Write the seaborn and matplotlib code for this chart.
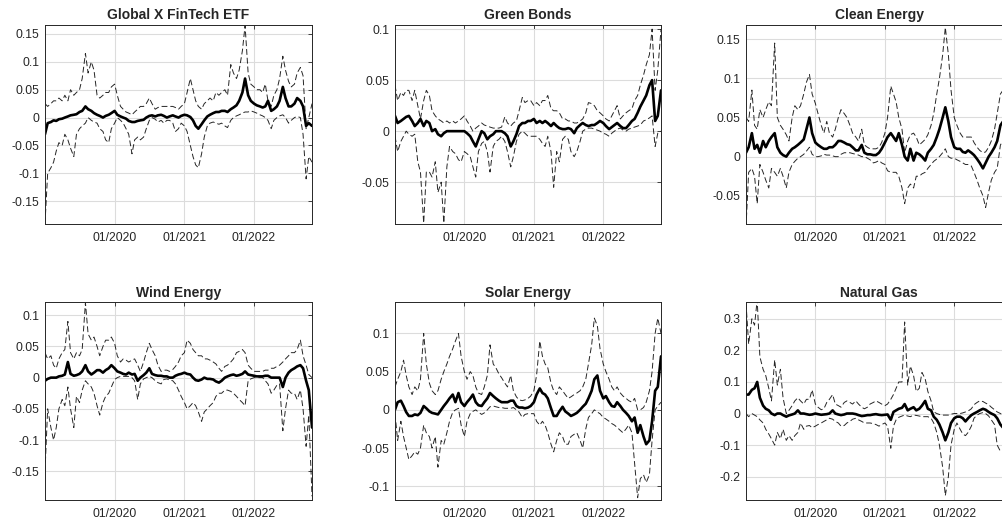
import numpy as np
import pandas as pd
import matplotlib
matplotlib.use("Agg")
import matplotlib.pyplot as plt
import matplotlib.dates as mdates
from matplotlib.ticker import FixedLocator, FuncFormatter
import seaborn as sns

# semi-monthly observation dates, 01/2019 - 11/2022
dates = pd.date_range("2019-01-01", periods=93, freq="SMS")

# Global X FinTech ETF
fin_up = [0.025, 0.02, 0.025, 0.03, 0.03, 0.035, 0.03, 0.04, 0.03, 0.05, 0.04, 0.045, 0.05, 0.07, 0.115, 0.08,
          0.1, 0.085, 0.04, 0.035, 0.04, 0.045, 0.045, 0.055, 0.06, 0.04, 0.02, 0.015, 0.01, 0.008, 0.005, 0.01,
          0.015, 0.02, 0.02, 0.025, 0.035, 0.025, 0.015, 0.018, 0.02, 0.02, 0.02, 0.02, 0.02, 0.018, 0.015, 0.02,
          0.025, 0.045, 0.07, 0.05, 0.03, 0.02, 0.015, 0.025, 0.03, 0.035, 0.03, 0.045, 0.04, 0.045, 0.05, 0.04,
          0.095, 0.08, 0.07, 0.085, 0.12, 0.165, 0.08, 0.06, 0.055, 0.05, 0.05, 0.045, 0.06, 0.03, 0.02, 0.04,
          0.05, 0.07, 0.11, 0.085, 0.065, 0.055, 0.06, 0.08, 0.09, 0.075, -0.02, 0.0, 0.025]
fin_med = [-0.03, -0.01, -0.008, -0.005, -0.006, -0.003, -0.002, 0.0, 0.002, 0.004, 0.005, 0.006, 0.01, 0.012,
           0.02, 0.015, 0.012, 0.008, 0.005, 0.003, 0.0, 0.003, 0.005, 0.008, 0.012, 0.005, 0.002, 0.0, -0.002,
           -0.006, -0.008, -0.008, -0.006, -0.005, -0.004, 0.0, 0.003, 0.004, 0.002, 0.004, 0.005, 0.003, 0.0,
           0.002, 0.004, 0.002, 0.0, 0.003, 0.005, 0.004, 0.001, -0.005, -0.015, -0.02, -0.012, -0.005, 0.002,
           0.005, 0.008, 0.01, 0.01, 0.012, 0.012, 0.01, 0.015, 0.018, 0.022, 0.03, 0.045, 0.07, 0.04, 0.03,
           0.025, 0.022, 0.02, 0.018, 0.02, 0.03, 0.012, 0.015, 0.02, 0.03, 0.055, 0.035, 0.02, 0.02, 0.025,
           0.035, 0.03, 0.02, -0.015, -0.01, -0.015]
fin_lo = [-0.19, -0.1, -0.09, -0.08, -0.06, -0.045, -0.05, -0.03, -0.04, -0.055, -0.07, -0.03, -0.02, -0.015,
          -0.01, 0.0, -0.005, -0.008, -0.01, -0.02, -0.025, -0.04, -0.045, -0.02, -0.01, 0.0, -0.005, -0.01,
          -0.02, -0.03, -0.065, -0.04, -0.035, -0.04, -0.035, -0.02, -0.005, 0.0, -0.003, -0.008, -0.005, -0.01,
          -0.005, -0.005, -0.01, -0.025, -0.02, -0.01, -0.015, -0.025, -0.05, -0.07, -0.085, -0.09, -0.065,
          -0.035, -0.015, -0.01, -0.008, -0.01, -0.012, -0.01, -0.015, -0.018, -0.005, 0.0, 0.003, 0.005, 0.008,
          0.01, 0.01, 0.012, 0.01, 0.008, 0.005, 0.003, 0.0, -0.005, -0.02, -0.005, 0.0, 0.003, 0.005, 0.0,
          -0.01, -0.005, 0.0, 0.002, 0.0, -0.03, -0.11, -0.07, -0.08]

# Green Bonds
gb_up = [0.045, 0.03, 0.038, 0.035, 0.04, 0.04, 0.03, 0.04, 0.025, 0.012, 0.03, 0.04, 0.035, 0.02, 0.015, 0.012,
         0.01, 0.008, 0.01, 0.008, 0.01, 0.008, 0.01, 0.012, 0.015, 0.01, 0.005, 0.0, 0.003, 0.005, 0.008, 0.006,
         0.005, 0.004, 0.003, 0.003, 0.003, 0.004, 0.014, 0.008, 0.005, 0.008, 0.01, 0.02, 0.033, 0.028, 0.03,
         0.03, 0.025, 0.028, 0.025, 0.03, 0.03, 0.035, 0.022, 0.02, 0.02, 0.018, 0.012, 0.012, 0.01, 0.01,
         0.008, 0.008, 0.01, 0.012, 0.018, 0.028, 0.027, 0.025, 0.02, 0.018, 0.015, 0.012, 0.01, 0.015, 0.02,
         0.025, 0.012, 0.015, 0.018, 0.02, 0.022, 0.03, 0.035, 0.045, 0.055, 0.065, 0.075, 0.1, 0.04, 0.06, 0.1]
gb_med = [0.015, 0.008, 0.01, 0.012, 0.014, 0.015, 0.01, 0.005, 0.008, 0.012, 0.005, 0.01, 0.008, 0.0, 0.002,
          -0.003, -0.005, -0.002, 0.0, 0.0, 0.0, 0.0, 0.0, 0.0, 0.0, -0.002, -0.005, -0.01, -0.015, -0.008, 0.0,
          -0.002, -0.008, -0.005, -0.003, 0.0, 0.0, 0.0, -0.002, -0.005, -0.015, -0.01, -0.003, 0.005, 0.008,
          0.008, 0.01, 0.01, 0.012, 0.008, 0.01, 0.008, 0.01, 0.008, 0.005, 0.008, 0.005, 0.003, 0.002, 0.002,
          0.003, 0.002, -0.002, 0.003, 0.006, 0.008, 0.006, 0.005, 0.006, 0.006, 0.008, 0.01, 0.008, 0.005,
          0.002, 0.004, 0.006, 0.008, 0.005, 0.003, 0.003, 0.006, 0.01, 0.012, 0.018, 0.024, 0.03, 0.035, 0.045,
          0.05, 0.01, 0.015, 0.04]
gb_lo = [-0.005, -0.02, -0.01, -0.005, 0.0, -0.003, -0.005, -0.003, -0.03, -0.04, -0.09, -0.04, -0.04, -0.045,
         -0.03, -0.06, -0.05, -0.09, -0.035, -0.015, -0.02, -0.022, -0.028, -0.03, -0.02, -0.022, -0.025, -0.035,
         -0.045, -0.02, -0.012, -0.01, -0.02, -0.04, -0.015, -0.01, -0.008, -0.005, -0.01, -0.02, -0.035,
         -0.025, -0.01, -0.003, 0.0, -0.002, -0.005, -0.005, -0.005, -0.005, -0.008, -0.012, -0.015, -0.005,
         -0.02, -0.055, -0.02, -0.03, -0.008, -0.005, -0.008, -0.02, -0.025, -0.02, -0.01, 0.0, 0.002, 0.003,
         0.003, 0.002, 0.001, 0.0, -0.002, -0.003, -0.005, -0.002, 0.0, 0.002, 0.003, 0.001, 0.0, 0.002, 0.003,
         0.004, 0.005, 0.006, 0.01, 0.011, 0.013, 0.015, -0.015, -0.002, 0.0]

# Clean Energy
ce_up = [0.05, 0.045, 0.085, 0.04, 0.035, 0.06, 0.05, 0.06, 0.07, 0.065, 0.145, 0.05, 0.04, 0.035, 0.028, 0.02,
         0.05, 0.065, 0.06, 0.065, 0.08, 0.095, 0.105, 0.08, 0.068, 0.055, 0.04, 0.03, 0.045, 0.03, 0.025, 0.035,
         0.05, 0.06, 0.055, 0.05, 0.04, 0.03, 0.025, 0.02, 0.035, 0.015, 0.012, 0.01, 0.01, 0.01, 0.012, 0.018,
         0.03, 0.05, 0.09, 0.08, 0.07, 0.05, 0.035, 0.005, 0.02, 0.028, 0.03, 0.025, 0.015, 0.018, 0.022, 0.028,
         0.04, 0.055, 0.08, 0.1, 0.13, 0.165, 0.13, 0.085, 0.05, 0.04, 0.03, 0.025, 0.025, 0.025, 0.025, 0.018,
         0.012, 0.008, 0.005, 0.006, 0.012, 0.02, 0.035, 0.055, 0.08, 0.085, 0.08, 0.075, 0.07]
ce_med = [0.005, 0.012, 0.03, 0.01, 0.015, 0.005, 0.02, 0.012, 0.02, 0.025, 0.03, 0.012, 0.005, 0.002, 0.0, 0.005,
          0.01, 0.012, 0.015, 0.018, 0.022, 0.035, 0.05, 0.03, 0.018, 0.015, 0.012, 0.01, 0.01, 0.012, 0.012,
          0.015, 0.02, 0.02, 0.018, 0.016, 0.015, 0.012, 0.008, 0.008, 0.015, 0.005, 0.003, 0.003, 0.002, 0.002,
          0.005, 0.01, 0.018, 0.025, 0.03, 0.025, 0.02, 0.03, 0.015, 0.0, -0.005, 0.01, -0.005, 0.005, 0.003,
          0.0, -0.005, 0.005, 0.01, 0.015, 0.025, 0.035, 0.05, 0.063, 0.045, 0.025, 0.012, 0.01, 0.01, 0.006,
          0.005, 0.008, 0.005, 0.002, -0.003, -0.008, -0.015, -0.008, 0.0, 0.005, 0.012, 0.02, 0.04, 0.045,
          0.04, 0.035, 0.03]
ce_lo = [-0.09, -0.02, -0.015, -0.025, -0.06, -0.01, -0.02, -0.03, -0.04, -0.015, -0.02, -0.025, -0.015, -0.025,
         -0.04, -0.02, -0.01, -0.006, -0.002, 0.0, 0.003, 0.007, 0.012, 0.003, 0.0, 0.0, 0.001, 0.003, 0.002,
         0.002, 0.001, 0.0, 0.0, 0.003, 0.005, 0.005, 0.005, 0.004, 0.003, 0.002, 0.0, 0.0, -0.002, -0.004,
         -0.008, -0.007, -0.005, -0.008, -0.01, -0.018, -0.02, -0.02, -0.02, -0.025, -0.04, -0.06, -0.04, -0.035,
         -0.04, -0.025, -0.025, -0.022, -0.02, -0.015, -0.01, -0.006, -0.003, 0.0, 0.005, 0.01, 0.0, -0.002,
         -0.002, -0.004, -0.006, -0.008, -0.01, -0.01, -0.012, -0.02, -0.03, -0.04, -0.05, -0.065, -0.045, -0.03,
         -0.02, -0.015, 0.015, 0.02, 0.02, 0.02, 0.02]

# Wind Energy
we_up = [0.04, 0.03, 0.035, 0.02, 0.015, 0.03, 0.04, 0.045, 0.09, 0.04, 0.03, 0.04, 0.035, 0.045, 0.12, 0.07,
         0.06, 0.065, 0.05, 0.035, 0.05, 0.06, 0.06, 0.065, 0.055, 0.035, 0.025, 0.03, 0.028, 0.025, 0.028, 0.03,
         0.02, 0.01, 0.025, 0.04, 0.055, 0.045, 0.035, 0.02, 0.01, 0.012, 0.012, 0.01, 0.013, 0.018, 0.025, 0.035,
         0.04, 0.06, 0.055, 0.045, 0.04, 0.035, 0.035, 0.03, 0.03, 0.028, 0.025, 0.022, 0.015, 0.01, 0.018, 0.02,
         0.025, 0.03, 0.04, 0.042, 0.045, 0.04, 0.02, 0.015, 0.01, 0.01, 0.01, 0.01, 0.012, 0.012, 0.015, 0.015,
         0.018, 0.02, 0.025, 0.03, 0.035, 0.04, 0.04, 0.045, 0.06, 0.035, 0.02, 0.005, 0.0]
we_med = [-0.005, -0.002, 0.0, 0.0, 0.0, 0.002, 0.003, 0.005, 0.025, 0.006, 0.003, 0.004, 0.006, 0.01, 0.02, 0.01,
          0.005, 0.008, 0.012, 0.012, 0.008, 0.012, 0.015, 0.02, 0.015, 0.01, 0.008, 0.006, 0.005, 0.008, 0.005,
          0.006, -0.005, 0.0, 0.004, 0.008, 0.015, 0.006, 0.004, 0.003, 0.003, 0.002, 0.002, 0.0, 0.0, 0.003,
          0.005, 0.006, 0.008, 0.006, 0.005, 0.0, -0.004, -0.005, -0.003, 0.0, -0.002, -0.002, -0.003, -0.006,
          -0.008, -0.005, 0.0, 0.002, 0.004, 0.005, 0.003, 0.004, 0.006, 0.01, 0.005, 0.004, 0.003, 0.002, 0.002,
          0.002, 0.003, 0.003, 0.0, 0.0, 0.0, 0.0, -0.015, 0.0, 0.008, 0.012, 0.015, 0.018, 0.02, 0.015, -0.005,
          -0.02, -0.08]
we_lo = [-0.15, -0.05, -0.08, -0.1, -0.08, -0.05, -0.035, -0.045, -0.015, -0.05, -0.08, -0.03, -0.04, -0.02,
         -0.005, -0.01, -0.015, -0.025, -0.045, -0.06, -0.04, -0.03, -0.025, -0.015, -0.003, 0.0, 0.002, 0.002,
         0.002, 0.002, 0.0, -0.005, -0.035, -0.01, -0.002, 0.0, 0.002, 0.0, -0.005, -0.008, -0.01, -0.003,
         -0.002, -0.004, -0.005, -0.01, -0.02, -0.03, -0.04, -0.05, -0.045, -0.04, -0.045, -0.055, -0.07, -0.055,
         -0.05, -0.045, -0.04, -0.03, -0.025, -0.025, -0.02, -0.02, -0.022, -0.025, -0.03, -0.035, -0.04, -0.045,
         -0.005, -0.002, 0.0, 0.0, 0.0, 0.0, -0.005, -0.01, -0.025, -0.02, -0.012, -0.01, -0.085, -0.05, -0.02,
         -0.025, -0.025, -0.035, -0.02, -0.05, -0.11, -0.06, -0.19]

# Solar Energy
se_up = [0.03, 0.04, 0.05, 0.065, 0.045, 0.03, 0.02, 0.03, 0.025, 0.04, 0.1, 0.06, 0.035, 0.025, 0.02, 0.025,
         0.04, 0.05, 0.06, 0.07, 0.08, 0.09, 0.1, 0.07, 0.05, 0.04, 0.05, 0.045, 0.03, 0.022, 0.02, 0.03, 0.045,
         0.085, 0.06, 0.055, 0.047, 0.042, 0.035, 0.03, 0.045, 0.025, 0.017, 0.013, 0.012, 0.013, 0.015, 0.018,
         0.025, 0.045, 0.09, 0.07, 0.06, 0.055, 0.035, 0.025, 0.02, 0.03, 0.025, 0.02, 0.015, 0.017, 0.02, 0.022,
         0.025, 0.03, 0.04, 0.06, 0.085, 0.12, 0.11, 0.08, 0.06, 0.05, 0.04, 0.03, 0.025, 0.03, 0.022, 0.018,
         0.015, 0.012, 0.01, 0.015, 0.0, 0.0, 0.003, 0.01, 0.025, 0.05, 0.1, 0.12, 0.1]
se_med = [0.0, 0.01, 0.012, 0.005, -0.003, -0.008, -0.008, -0.006, -0.007, -0.004, 0.005, 0.002, -0.002, -0.004,
          -0.005, -0.006, 0.0, 0.005, 0.01, 0.015, 0.02, 0.01, 0.022, 0.01, 0.005, 0.01, 0.015, 0.02, 0.01,
          0.006, 0.005, 0.01, 0.015, 0.022, 0.018, 0.015, 0.012, 0.01, 0.01, 0.01, 0.012, 0.012, 0.005, 0.003,
          0.003, 0.002, 0.003, 0.005, 0.01, 0.02, 0.028, 0.022, 0.02, 0.015, 0.002, -0.008, -0.008, -0.002,
          0.004, -0.002, -0.005, -0.008, -0.006, -0.004, 0.0, 0.004, 0.008, 0.015, 0.025, 0.04, 0.045, 0.025,
          0.015, 0.018, 0.01, 0.005, 0.004, 0.01, 0.005, 0.0, -0.004, -0.008, -0.015, -0.01, -0.03, -0.02,
          -0.035, -0.045, -0.04, -0.015, 0.025, 0.03, 0.07]
se_lo = [-0.005, -0.04, -0.015, -0.035, -0.05, -0.065, -0.06, -0.055, -0.058, -0.05, -0.02, -0.03, -0.035, -0.05,
         -0.035, -0.075, -0.04, -0.045, -0.03, -0.015, -0.003, 0.0, 0.002, -0.02, -0.035, -0.015, -0.005, -0.002,
         0.0, -0.003, -0.006, -0.004, 0.0, 0.004, 0.005, 0.004, 0.003, 0.003, 0.002, 0.002, 0.002, 0.003, 0.0,
         -0.003, -0.01, -0.006, -0.005, -0.005, -0.005, -0.015, -0.02, -0.015, -0.02, -0.03, -0.045, -0.055,
         -0.04, -0.03, -0.035, -0.045, -0.045, -0.035, -0.032, -0.03, -0.04, -0.05, -0.025, -0.01, -0.005, 0.0,
         -0.003, -0.005, -0.01, -0.012, -0.015, -0.018, -0.02, -0.023, -0.027, -0.03, -0.025, -0.02, -0.03,
         -0.07, -0.115, -0.09, -0.085, -0.095, -0.085, -0.04, 0.0, 0.005, 0.01]

# Natural Gas
ng_up = [0.35, 0.22, 0.3, 0.28, 0.36, 0.18, 0.14, 0.12, 0.08, 0.04, 0.17, 0.09, 0.14, 0.05, 0.0, 0.01, 0.025,
         0.04, 0.05, 0.04, 0.03, 0.045, 0.045, 0.075, 0.03, 0.02, 0.012, 0.015, 0.035, 0.045, 0.06, 0.03, 0.025,
         0.02, 0.035, 0.04, 0.035, 0.03, 0.04, 0.03, 0.02, 0.015, 0.02, 0.03, 0.035, 0.04, 0.035, 0.03, 0.025,
         0.03, 0.045, 0.06, 0.08, 0.1, 0.1, 0.29, 0.09, 0.15, 0.12, 0.07, 0.08, 0.13, 0.11, 0.07, 0.04, 0.005,
         0.0, -0.003, -0.005, -0.005, -0.005, -0.002, 0.0, 0.0, 0.0, 0.002, 0.005, 0.008, 0.015, 0.028, 0.035,
         0.04, 0.038, 0.033, 0.028, 0.02, 0.012, 0.005, 0.0, -0.005, -0.01, -0.01, -0.01]
ng_med = [0.06, 0.06, 0.075, 0.08, 0.1, 0.05, 0.025, 0.015, 0.01, 0.0, -0.005, 0.0, 0.0, -0.005, -0.01, -0.006,
          -0.003, 0.0, 0.01, 0.0, 0.0, -0.002, -0.004, -0.003, 0.0, -0.002, -0.004, -0.003, -0.002, 0.0, 0.01,
          0.0, -0.003, -0.005, -0.003, 0.0, 0.0, 0.0, -0.002, -0.005, -0.008, -0.007, -0.005, -0.005, -0.003,
          -0.002, -0.004, -0.005, -0.004, -0.003, -0.02, 0.005, 0.01, 0.015, 0.018, 0.03, 0.01, 0.015, 0.02,
          0.01, 0.015, 0.025, 0.04, 0.015, 0.01, -0.01, -0.02, -0.035, -0.06, -0.085, -0.06, -0.03, -0.015,
          -0.01, -0.01, -0.015, -0.025, -0.015, -0.005, 0.0, 0.005, 0.01, 0.015, 0.012, 0.005, 0.0, -0.005,
          -0.015, -0.035, -0.045, -0.05, -0.05, -0.05]
ng_lo = [0.0, -0.01, 0.0, -0.005, -0.01, -0.02, -0.03, -0.05, -0.065, -0.08, -0.1, -0.06, -0.08, -0.05, -0.085,
         -0.07, -0.085, -0.07, -0.06, -0.03, -0.05, -0.04, -0.038, -0.045, -0.04, -0.035, -0.03, -0.025, -0.02,
         -0.015, -0.018, -0.025, -0.03, -0.04, -0.038, -0.03, -0.025, -0.018, -0.015, -0.02, -0.025, -0.03,
         -0.03, -0.03, -0.032, -0.035, -0.04, -0.035, -0.03, -0.04, -0.11, -0.04, -0.02, -0.012, -0.008, -0.005,
         -0.008, -0.01, -0.005, -0.006, -0.008, -0.01, -0.01, -0.01, -0.015, -0.03, -0.06, -0.1, -0.17, -0.26,
         -0.2, -0.1, -0.05, -0.03, -0.05, -0.065, -0.07, -0.06, -0.04, -0.015, -0.005, 0.0, 0.003, 0.0, -0.008,
         -0.02, -0.035, -0.1, -0.12, -0.12, -0.11, -0.1, -0.1]

titles = ["Global X FinTech ETF", "Green Bonds", "Clean Energy",
          "Wind Energy", "Solar Energy", "Natural Gas"]
series = [(fin_up, fin_med, fin_lo), (gb_up, gb_med, gb_lo), (ce_up, ce_med, ce_lo),
          (we_up, we_med, we_lo), (se_up, se_med, se_lo), (ng_up, ng_med, ng_lo)]
ylims = [(-0.191, 0.166), (-0.091, 0.104), (-0.086, 0.168),
         (-0.196, 0.121), (-0.118, 0.141), (-0.274, 0.353)]
yticks = [[-0.15, -0.1, -0.05, 0, 0.05, 0.1, 0.15],
          [-0.05, 0, 0.05, 0.1],
          [-0.05, 0, 0.05, 0.1, 0.15],
          [-0.15, -0.1, -0.05, 0, 0.05, 0.1],
          [-0.1, -0.05, 0, 0.05, 0.1],
          [-0.2, -0.1, 0, 0.1, 0.2, 0.3]]
xticks = pd.to_datetime(["2020-01-01", "2021-01-01", "2022-01-01"])

sns.set_style("white")
plt.rcParams["font.family"] = ["Liberation Sans", "DejaVu Sans"]

fig = plt.figure(figsize=(10.02, 5.25), dpi=100)
positions = [[0.0449, 0.5733, 0.2665, 0.379], [0.3942, 0.5733, 0.2655, 0.379], [0.7445, 0.5733, 0.2655, 0.379],
             [0.0449, 0.0476, 0.2665, 0.377], [0.3942, 0.0476, 0.2655, 0.377], [0.7445, 0.0476, 0.2655, 0.377]]

fmt = FuncFormatter(lambda v, p: f"{round(v, 4):g}" if abs(v) > 1e-9 else "0")

for pos, title, (up, med, lo), yl, yt in zip(positions, titles, series, ylims, yticks):
    ax = fig.add_axes(pos)
    for band in (up, lo):
        sns.lineplot(x=dates, y=band, ax=ax, color="black", linewidth=0.7,
                     linestyle=(0, (6, 3)), alpha=0.85)
    sns.lineplot(x=dates, y=med, ax=ax, color="black", linewidth=1.9)
    ax.set_xlim(pd.Timestamp("2019-01-01"), pd.Timestamp("2022-11-01"))
    ax.set_ylim(*yl)
    ax.xaxis.set_major_locator(FixedLocator(mdates.date2num(xticks)))
    ax.xaxis.set_major_formatter(mdates.DateFormatter("%m/%Y"))
    ax.yaxis.set_major_locator(FixedLocator(yt))
    ax.yaxis.set_major_formatter(fmt)
    ax.grid(True, color="#dcdcdc", linewidth=0.8)
    ax.set_axisbelow(True)
    ax.tick_params(direction="in", length=3, width=0.6, color="#262626", labelsize=8.7,
                   labelcolor="#262626", top=True, right=True)
    ax.tick_params(axis="x", pad=6)
    ax.tick_params(axis="y", pad=4)
    for s in ax.spines.values():
        s.set_color("#262626")
        s.set_linewidth(0.7)
    ax.set_xlabel("")
    ax.set_ylabel("")
    ax.set_title(title, fontsize=10, fontweight="bold", pad=4)

fig.savefig("out.png", dpi=100)
